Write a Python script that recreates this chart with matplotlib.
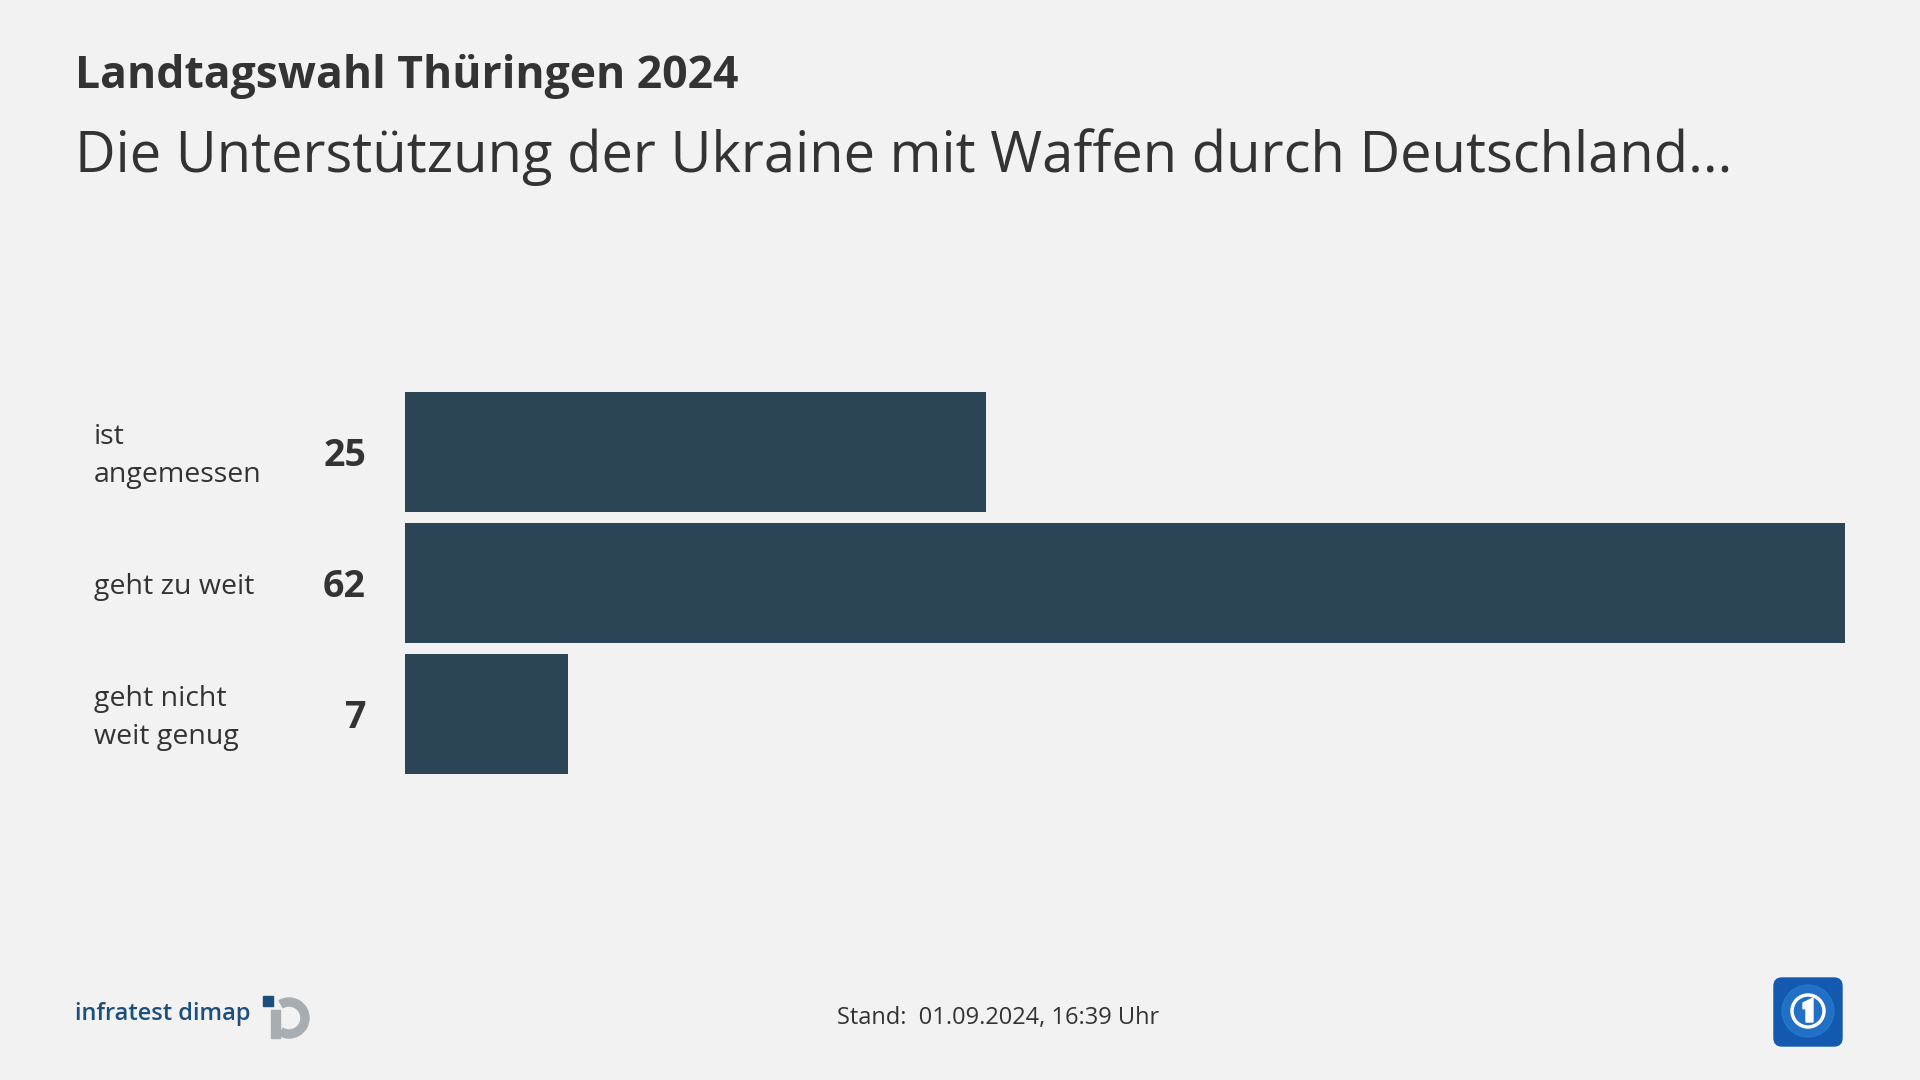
import matplotlib.pyplot as plt
from matplotlib.patches import Rectangle, FancyBboxPatch, Wedge, Circle, Polygon

plt.rcParams['font.family'] = ['Open Sans', 'DejaVu Sans']

# Daten
kategorien = ["ist\nangemessen", "geht zu weit", "geht nicht\nweit genug"]
werte = [25, 62, 7]

titel = "Landtagswahl Thüringen 2024"
untertitel = "Die Unterstützung der Ukraine mit Waffen durch Deutschland..."
stand = "Stand:  01.09.2024, 16:39 Uhr"

bg = "#f2f2f2"
bar_col = "#2b4557"
text_col = "#333333"

W, H = 1920, 1080
fig = plt.figure(figsize=(19.2, 10.8), dpi=100, facecolor=bg)


def fx(x):
    return x / W


def fy(y):
    return 1 - y / H


# Balken
ax = fig.add_axes([fx(405), fy(774), fx(1845) - fx(405), fy(392) - fy(774)])
ax.set_facecolor(bg)
pos = list(range(len(werte)))
ax.barh(pos, werte, height=0.916, color=bar_col)
ax.set_xlim(0, max(werte))
ax.set_ylim(len(werte) - 0.5 - 0.042, -0.5 + 0.042)
ax.axis('off')

for i, (k, v) in enumerate(zip(kategorien, werte)):
    yc = ax.transData.transform((0, i))[1] / H - 4 / H
    fig.text(fx(94), yc, k, ha='left', va='center', fontsize=20.5,
             color=text_col, linespacing=1.5)
    fig.text(fx(366), yc, str(v), ha='right', va='center', fontsize=27,
             fontweight='bold', color=text_col)

# Titel
fig.text(fx(75), fy(88), titel, ha='left', va='baseline', fontsize=32,
         fontweight='bold', color=text_col)
fig.text(fx(75), fy(172), untertitel, ha='left', va='baseline', fontsize=40.4,
         color=text_col)

# Fusszeile
fig.text(fx(998), fy(1018), stand, ha='center', va='center', fontsize=17,
         color=text_col)

# Logos
deko = fig.add_axes([0, 0, 1, 1], facecolor='none')
deko.set_xlim(0, W)
deko.set_ylim(H, 0)
deko.axis('off')

deko.text(75, 1014, "infratest dimap", ha='left', va='center', fontsize=17,
          fontweight='semibold', color="#1d4f7c")
deko.add_patch(Rectangle((263, 996), 10, 10, color="#1d4f7c"))
deko.add_patch(Wedge((289, 1018), 20, -120, 120, width=8, color="#a8adb2"))
deko.add_patch(Rectangle((271, 1010), 9, 28, color="#a8adb2"))

deko.add_patch(FancyBboxPatch((1774, 978), 68, 68,
                              boxstyle="round,pad=0,rounding_size=8",
                              color="#1459b0"))
deko.add_patch(Circle((1808, 1011), 26, color="#2d7fd6", alpha=0.6))
deko.add_patch(Circle((1808, 1011), 16, fill=False, ec='white', lw=2.5))
deko.add_patch(Polygon([(1803, 1003), (1813, 998), (1813, 1022), (1806, 1022),
                        (1806, 1008), (1803, 1009)], color='white'))

fig.savefig("out.png", dpi=100, facecolor=bg)
